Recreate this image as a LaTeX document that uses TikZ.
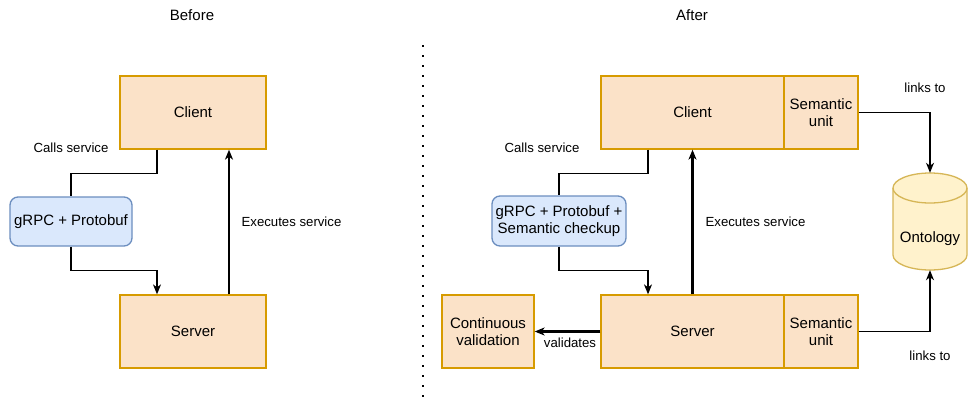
\documentclass[tikz,border=0pt]{standalone}
\usepackage{fontspec}
\setmainfont{Liberation Sans}
\usetikzlibrary{arrows.meta}

\definecolor{boxfill}{HTML}{FBE2C8}
\definecolor{boxline}{HTML}{D79B00}
\definecolor{rpcfill}{HTML}{DAE8FC}
\definecolor{rpcline}{HTML}{6C8EBF}
\definecolor{cylfill}{HTML}{FFF2CC}
\definecolor{cylline}{HTML}{D6B656}

\tikzset{
  boxtext/.style={font=\fontsize{15}{17.4}\selectfont},
  box/.style={draw=boxline, fill=boxfill, line width=1.3pt, inner sep=2pt, align=center, boxtext},
  rpcbox/.style={draw=rpcline, fill=rpcfill, line width=1.3pt, rounded corners=8pt,
                 inner sep=2pt, align=center, boxtext},
  lbl/.style={inner sep=1pt, align=center},
  title/.style={inner sep=1pt, font=\fontsize{15}{17}\selectfont},
  link/.style={line width=1.2pt, draw=black},
  flow/.style={line width=2.2pt, draw=black},
  tip/.style={-{Stealth[length=10pt,width=8pt,inset=3pt]}},
}

\begin{document}
\begin{tikzpicture}[x=1pt, y=-1pt, font=\fontsize{13.2}{17}\selectfont]
\useasboundingbox (0,0) rectangle (970,400);

% ---------- headings and divider ----------
\node[title] (before) at (192,15) {Before};
\node[title] (after) at (692,15) {After};
\coordinate (divtop) at (423,45);
\coordinate (divbot) at (423,397);
\draw[line width=2pt, dash pattern=on 2pt off 8pt] (divtop) -- (divbot);

% ---------- left: plain gRPC ----------
\node[box, minimum width=146pt, minimum height=73pt] (clientL) at (193,112.5) {Client};
\node[box, minimum width=146pt, minimum height=73pt] (serverL) at (193,331.5) {Server};
\node[rpcbox, minimum width=122pt, minimum height=49pt] (grpcL) at (71,221.5) {gRPC + Protobuf};

\draw[link] ([xshift=-36pt]clientL.south) -- ++(0,24) -| (grpcL.north);
\draw[link, tip] (grpcL.south) -- ++(0,24) -| ([xshift=-36pt]serverL.north);
\draw[flow, tip] ([xshift=36pt]serverL.north) -- ([xshift=36pt]clientL.south);

\node[lbl] (callsL) at (71,148) {Calls service};
\node[lbl] (execL) at (291.5,222) {Executes service};

% ---------- right: semantic gRPC ----------
\node[box, minimum width=183pt, minimum height=73pt] (clientR) at (692.5,112.5) {Client};
\node[box, minimum width=74pt, minimum height=73pt] (semC) at (821,112.5) {Semantic\\unit};
\node[box, minimum width=183pt, minimum height=73pt] (serverR) at (692.5,331.5) {Server};
\node[box, minimum width=74pt, minimum height=73pt] (semS) at (821,331.5) {Semantic\\unit};
\node[box, minimum width=92pt, minimum height=73pt] (valid) at (488,331.5) {Continuous\\validation};
\node[rpcbox, minimum width=134pt, minimum height=50pt] (grpcR) at (559,221)
  {gRPC + Protobuf +\\Semantic checkup};

% ontology store drawn as a cylinder
\fill[cylfill] (893,188) -- (893,255)
  arc[start angle=180, end angle=360, x radius=37pt, y radius=15pt]
  -- (967,188)
  arc[start angle=0, end angle=180, x radius=37pt, y radius=15pt] -- cycle;
\draw[cylline, line width=1.3pt] (893,188) -- (893,255)
  arc[start angle=180, end angle=360, x radius=37pt, y radius=15pt]
  -- (967,188);
\draw[cylline, line width=1.3pt] (930,188) ellipse [x radius=37pt, y radius=15pt];
\node[minimum width=74pt, minimum height=97pt, inner sep=0pt] (onto) at (930,221.5) {};
\node[lbl, boxtext] (ontolabel) at (930,239) {Ontology};

\draw[link] ([xshift=-44.5pt]clientR.south) -- ++(0,24) -| (grpcR.north);
\draw[link, tip] (grpcR.south) -- ++(0,24) -| ([xshift=-44.5pt]serverR.north);
\draw[flow, tip] (serverR.north) -- (clientR.south);
\draw[flow, tip] (serverR.west) -- (valid.east);
\draw[link, tip] (semC.east) -| (onto.north);
\draw[link, tip] (semS.east) -| (onto.south);

\node[lbl] (callsR) at (542,148) {Calls service};
\node[lbl] (execR) at (755.5,222) {Executes service};
\node[lbl] (validates) at (570,343) {validates};
\node[lbl] (linkstop) at (925,88) {links to};
\node[lbl] (linksbot) at (930,356) {links to};
\end{tikzpicture}
\end{document}
